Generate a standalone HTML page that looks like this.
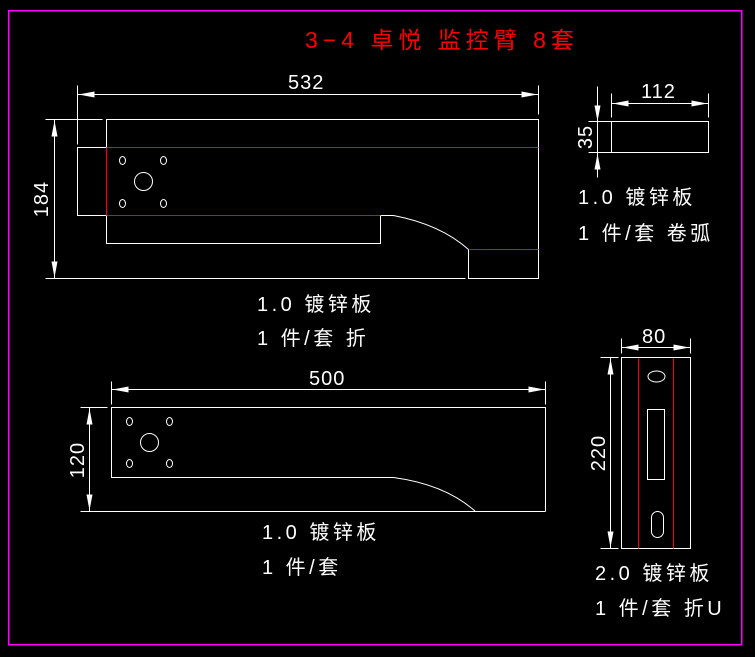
<!DOCTYPE html>
<html><head><meta charset="utf-8"><style>
html,body{margin:0;padding:0;background:#000;width:755px;height:657px;overflow:hidden}
svg{display:block}
text{font-family:"Liberation Sans","Noto Sans CJK SC",sans-serif;fill:#fff}
</style></head><body>
<svg width="755" height="657" viewBox="0 0 755 657" xmlns="http://www.w3.org/2000/svg" shape-rendering="crispEdges">
<defs>
<g id="aR"><polygon points="0,0 -16,-3 -16,3" fill="#fff"/></g>
</defs>
<g transform="translate(0.5,0.5)">
<rect x="8" y="10" width="733" height="634" fill="none" stroke="#f0f" stroke-width="1.5"/>
<g stroke="#fff" stroke-width="1" fill="none">
<!-- Part 1 -->
<line x1="77" y1="85" x2="77" y2="144"/>
<line x1="538" y1="85" x2="538" y2="114"/>
<line x1="77" y1="94" x2="538" y2="94"/>
<line x1="45" y1="119" x2="102" y2="119"/>
<line x1="45" y1="278" x2="465" y2="278"/>
<line x1="54" y1="119" x2="54" y2="278"/>
<polyline points="106,147 106,119 538,119 538,278 468,278 468,249"/>
<polyline points="106,215 106,243 380,243 380,215"/>
<polyline points="106,147 77,147 77,215 106,215"/>
<path d="M380,215 L393,215 Q440,224 468,249" shape-rendering="auto"/>
<g shape-rendering="auto">
<ellipse cx="122" cy="160" rx="3" ry="4"/><ellipse cx="163" cy="160" rx="3" ry="4"/>
<ellipse cx="122" cy="203" rx="3" ry="4"/><ellipse cx="163" cy="203" rx="3" ry="4"/>
<circle cx="143" cy="181" r="9"/>
</g>
<!-- Part 2 -->
<line x1="111" y1="381" x2="111" y2="404"/>
<line x1="545" y1="381" x2="545" y2="404"/>
<line x1="111" y1="389" x2="545" y2="389"/>
<line x1="80" y1="407" x2="107" y2="407"/>
<line x1="80" y1="511" x2="545" y2="511"/>
<line x1="89" y1="407" x2="89" y2="511"/>
<polyline points="386,477 111,477 111,407 545,407 545,511"/>
<path d="M386,477 L393,477 Q445,484 475,511" shape-rendering="auto"/>
<g shape-rendering="auto">
<ellipse cx="129" cy="421" rx="3" ry="4"/><ellipse cx="169" cy="421" rx="3" ry="4"/>
<ellipse cx="129" cy="463" rx="3" ry="4"/><ellipse cx="169" cy="463" rx="3" ry="4"/>
<circle cx="149" cy="442" r="9"/>
</g>
<!-- Part 3 -->
<rect x="611" y="121" width="97" height="31"/>
<line x1="611" y1="93" x2="611" y2="117"/>
<line x1="708" y1="93" x2="708" y2="117"/>
<line x1="611" y1="103" x2="708" y2="103"/>
<line x1="588" y1="121" x2="611" y2="121"/>
<line x1="588" y1="152" x2="611" y2="152"/>
<line x1="597" y1="86" x2="597" y2="177"/>
<!-- Part 4 -->
<rect x="621" y="357" width="69" height="191"/>
<line x1="621" y1="338" x2="621" y2="353"/>
<line x1="690" y1="338" x2="690" y2="353"/>
<line x1="621" y1="347" x2="690" y2="347"/>
<line x1="600" y1="357" x2="618" y2="357"/>
<line x1="600" y1="548" x2="618" y2="548"/>
<line x1="610" y1="357" x2="610" y2="548"/>
<ellipse cx="656" cy="376" rx="8.5" ry="5.5" shape-rendering="auto"/>
<rect x="647" y="409" width="17" height="70"/>
<rect x="651" y="511" width="12" height="26" rx="6" shape-rendering="auto"/>
</g>
<g stroke="#f00" stroke-width="1" fill="none">
<line x1="106" y1="147" x2="538" y2="147"/>
<line x1="106" y1="215" x2="380" y2="215"/>
<line x1="469" y1="249" x2="538" y2="249"/>
<line x1="106" y1="147" x2="106" y2="215"/>
<line x1="638" y1="358" x2="638" y2="548"/>
<line x1="673" y1="358" x2="673" y2="548"/>
</g>
<g fill="#fff" shape-rendering="auto">
<use href="#aR" transform="translate(78,94) rotate(180)"/>
<use href="#aR" transform="translate(537,94)"/>
<use href="#aR" transform="translate(54,120) rotate(-90)"/>
<use href="#aR" transform="translate(54,277) rotate(90)"/>
<use href="#aR" transform="translate(112,389) rotate(180)"/>
<use href="#aR" transform="translate(544,389)"/>
<use href="#aR" transform="translate(89,408) rotate(-90)"/>
<use href="#aR" transform="translate(89,510) rotate(90)"/>
<use href="#aR" transform="translate(612,103) rotate(180)"/>
<use href="#aR" transform="translate(707,103)"/>
<use href="#aR" transform="translate(597,121) rotate(90)"/>
<use href="#aR" transform="translate(597,153) rotate(-90)"/>
<use href="#aR" transform="translate(622,347) rotate(180)"/>
<use href="#aR" transform="translate(689,347)"/>
<use href="#aR" transform="translate(610,358) rotate(-90)"/>
<use href="#aR" transform="translate(610,547) rotate(90)"/>
</g>
</g>
<text x="305" y="48" style="fill:#f00;font-size:23px;letter-spacing:5px">3−4 卓悦 监控臂 8套</text>
<g style="font-size:20px;letter-spacing:1px">
<text x="288" y="89">532</text>
<text x="309" y="385">500</text>
<text x="641" y="98">112</text>
<text x="642" y="343">80</text>
<text transform="translate(48,199) rotate(-90)" text-anchor="middle">184</text>
<text transform="translate(84,460) rotate(-90)" text-anchor="middle">120</text>
<text transform="translate(592,137) rotate(-90)" text-anchor="middle">35</text>
<text transform="translate(605,453) rotate(-90)" text-anchor="middle">220</text>
</g>
<g style="font-size:20px;letter-spacing:3.5px">
<text x="257" y="311">1.0 镀锌板</text>
<text x="257" y="345">1 件/套 折</text>
<text x="262" y="539">1.0 镀锌板</text>
<text x="262" y="574">1 件/套</text>
<text x="578" y="204">1.0 镀锌板</text>
<text x="578" y="240">1 件/套 卷弧</text>
<text x="595" y="580">2.0 镀锌板</text>
<text x="595" y="615">1 件/套 折U</text>
</g>
</svg>
</body></html>
